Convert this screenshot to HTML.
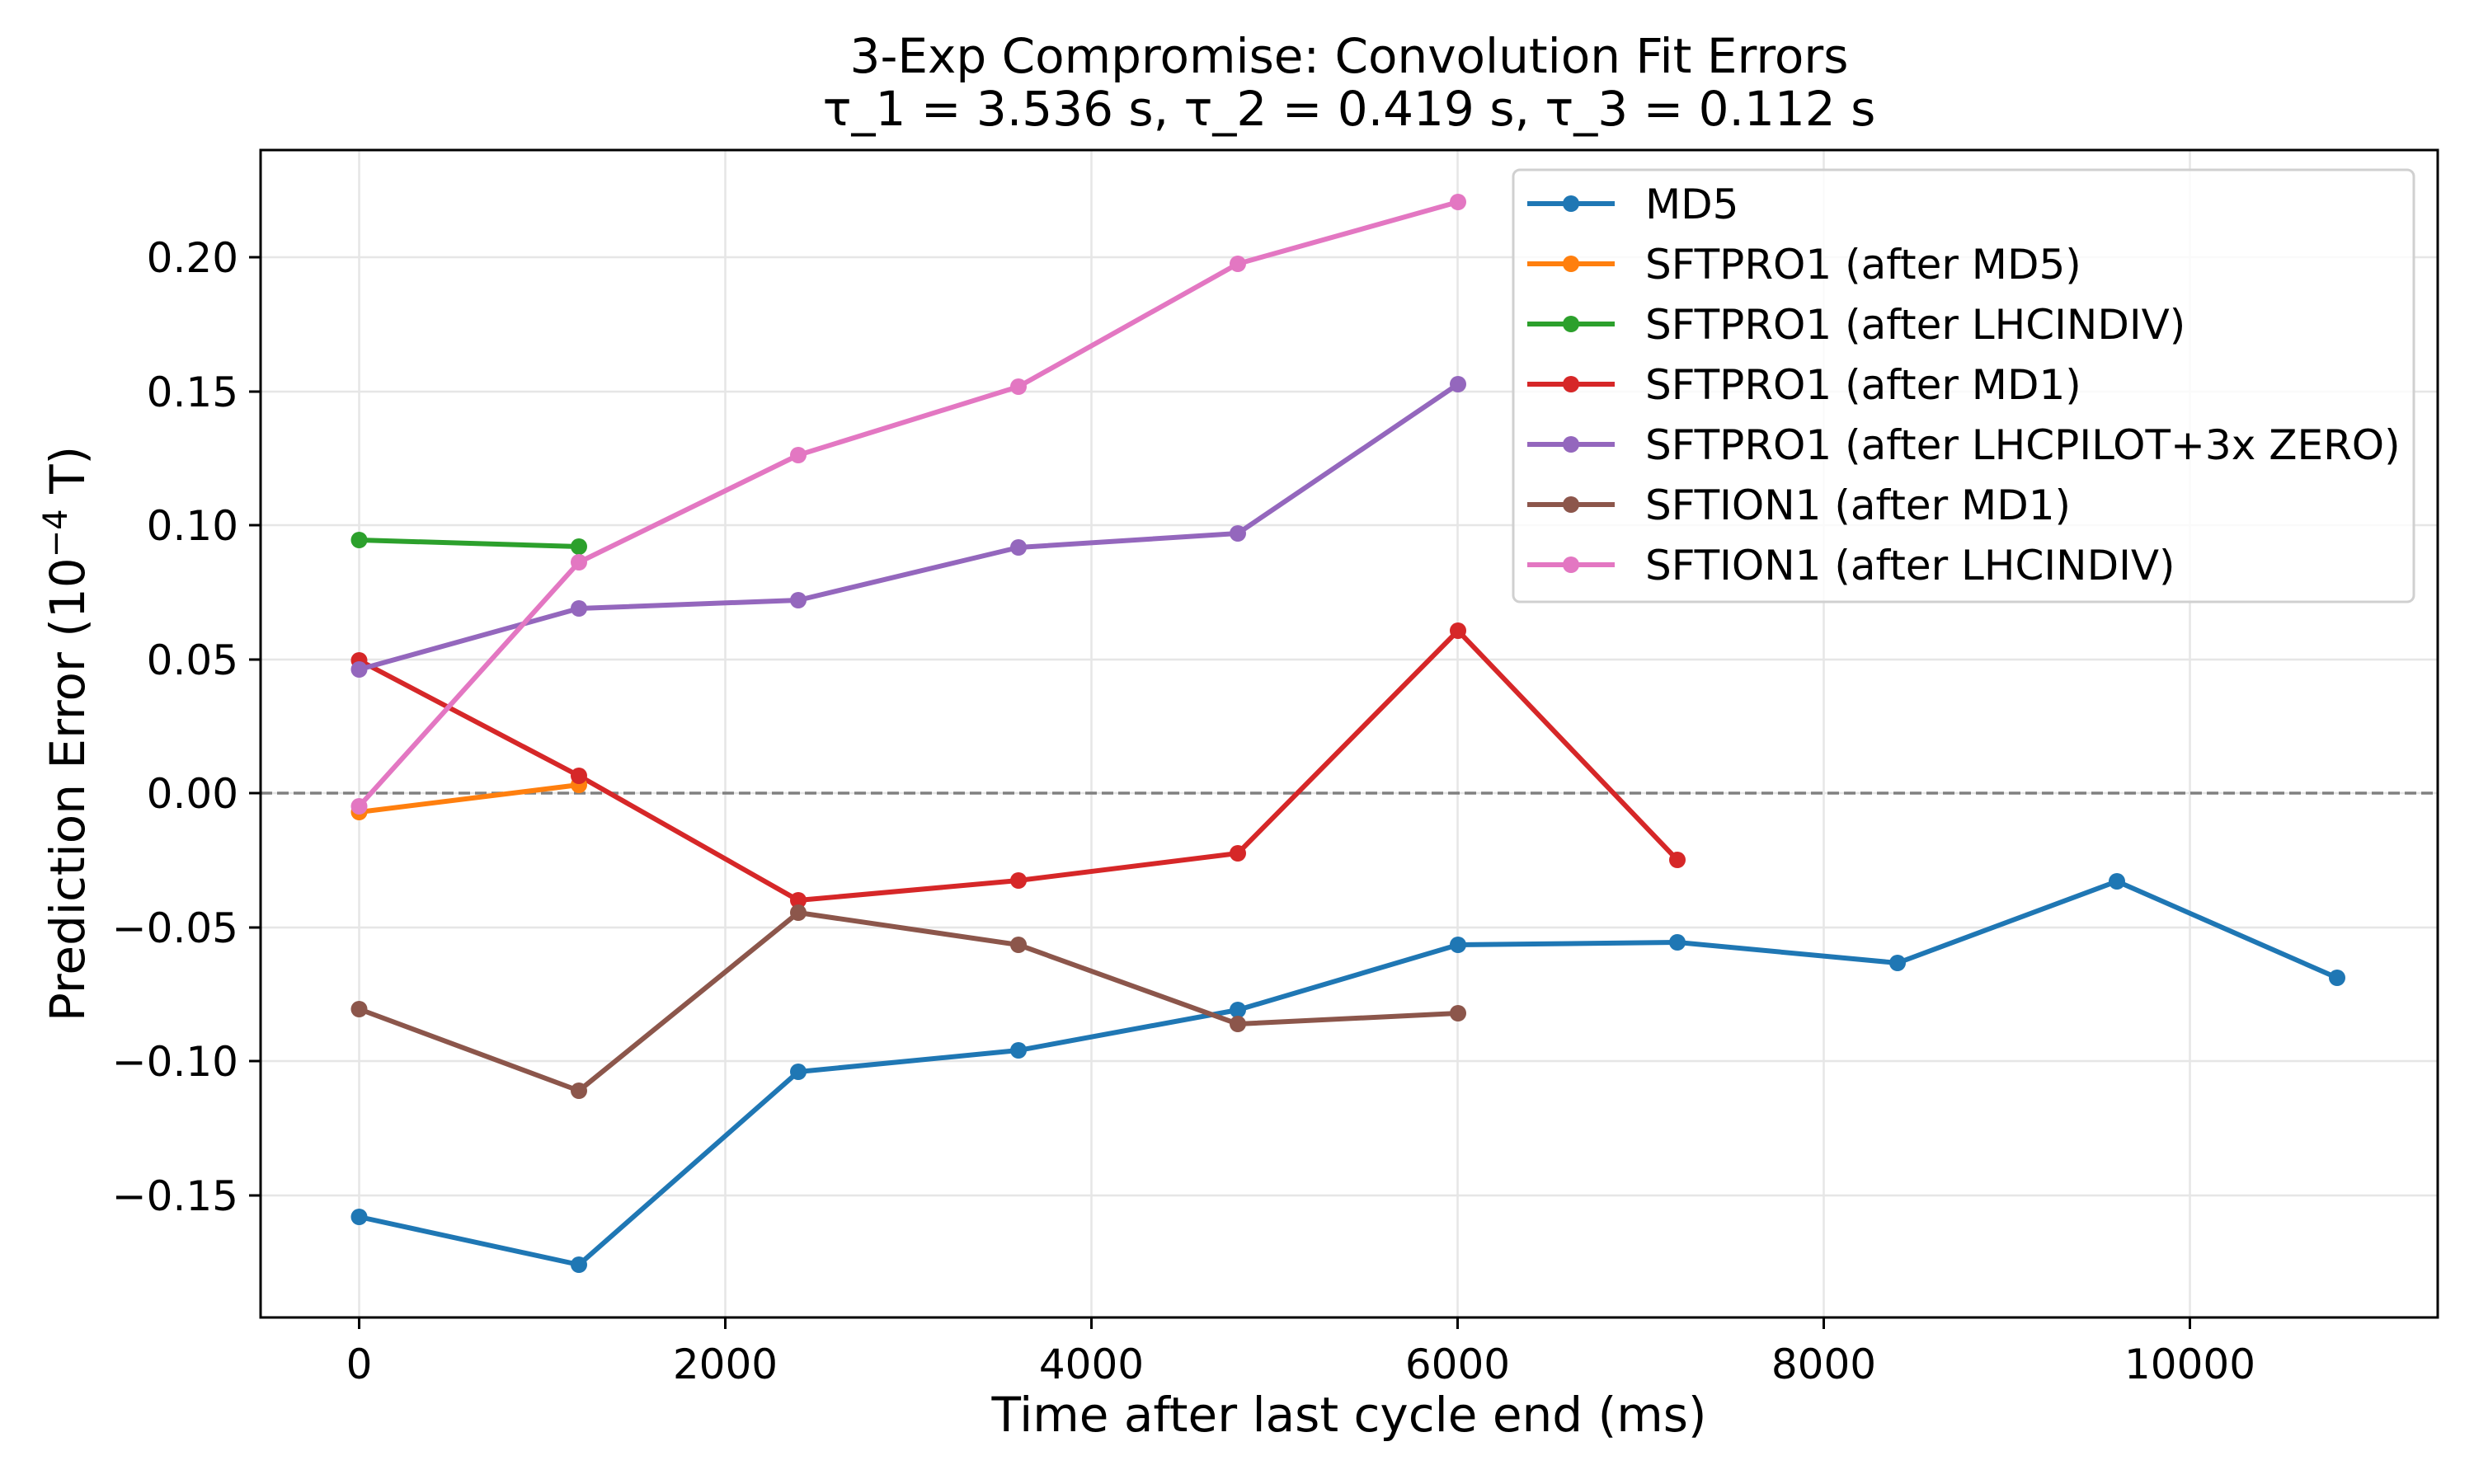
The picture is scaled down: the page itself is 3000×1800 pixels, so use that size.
<!DOCTYPE html>
<html><head><meta charset="utf-8"><style>
html,body{margin:0;padding:0;background:#fff;}
svg{display:block;font-family:"DejaVu Sans","Liberation Sans",sans-serif;}
</style></head><body>
<svg width="3000" height="1800" viewBox="0 0 3000 1800" xmlns="http://www.w3.org/2000/svg">
<rect width="3000" height="1800" fill="#fff"/>
<defs><clipPath id="c"><rect x="316" y="182" width="2640" height="1416"/></clipPath></defs>
<g stroke="#e6e6e6" stroke-width="2.5">
<line x1="435.5" y1="182" x2="435.5" y2="1598"/><line x1="879.5" y1="182" x2="879.5" y2="1598"/><line x1="1323.5" y1="182" x2="1323.5" y2="1598"/><line x1="1767.5" y1="182" x2="1767.5" y2="1598"/><line x1="2211.5" y1="182" x2="2211.5" y2="1598"/><line x1="2655.5" y1="182" x2="2655.5" y2="1598"/>
<line x1="316" y1="312" x2="2956" y2="312"/><line x1="316" y1="475" x2="2956" y2="475"/><line x1="316" y1="637" x2="2956" y2="637"/><line x1="316" y1="800" x2="2956" y2="800"/><line x1="316" y1="962" x2="2956" y2="962"/><line x1="316" y1="1125" x2="2956" y2="1125"/><line x1="316" y1="1287" x2="2956" y2="1287"/><line x1="316" y1="1450" x2="2956" y2="1450"/>
</g>
<line x1="316" y1="962" x2="2956" y2="962" stroke="#808080" stroke-width="3.5" stroke-dasharray="14,6"/>
<g clip-path="url(#c)" fill="none" stroke-width="6" stroke-linejoin="round">
<polyline stroke="#1f77b4" points="435.5,1476 702,1534 968,1300 1235,1274 1501,1225 1768,1146 2034,1143 2301,1168 2567,1069 2834,1186"/>
<polyline stroke="#ff7f0e" points="435.5,985 702,952"/>
<polyline stroke="#2ca02c" points="435.5,655 702,663"/>
<polyline stroke="#d62728" points="435.5,801 702,941 968,1092 1235,1068 1501,1035 1768,765 2034,1043"/>
<polyline stroke="#9467bd" points="435.5,812 702,738 968,728 1235,664 1501,647 1768,466"/>
<polyline stroke="#8c564b" points="435.5,1224 702,1323 968,1107 1235,1146 1501,1242 1768,1229"/>
<polyline stroke="#e377c2" points="435.5,978 702,682 968,552 1235,469 1501,320 1768,245"/>
</g>
<g clip-path="url(#c)">
<g fill="#1f77b4"><circle cx="435.5" cy="1476" r="10"/><circle cx="702" cy="1534" r="10"/><circle cx="968" cy="1300" r="10"/><circle cx="1235" cy="1274" r="10"/><circle cx="1501" cy="1225" r="10"/><circle cx="1768" cy="1146" r="10"/><circle cx="2034" cy="1143" r="10"/><circle cx="2301" cy="1168" r="10"/><circle cx="2567" cy="1069" r="10"/><circle cx="2834" cy="1186" r="10"/></g>
<g fill="#ff7f0e"><circle cx="435.5" cy="985" r="10"/><circle cx="702" cy="952" r="10"/></g>
<g fill="#2ca02c"><circle cx="435.5" cy="655" r="10"/><circle cx="702" cy="663" r="10"/></g>
<g fill="#d62728"><circle cx="435.5" cy="801" r="10"/><circle cx="702" cy="941" r="10"/><circle cx="968" cy="1092" r="10"/><circle cx="1235" cy="1068" r="10"/><circle cx="1501" cy="1035" r="10"/><circle cx="1768" cy="765" r="10"/><circle cx="2034" cy="1043" r="10"/></g>
<g fill="#9467bd"><circle cx="435.5" cy="812" r="10"/><circle cx="702" cy="738" r="10"/><circle cx="968" cy="728" r="10"/><circle cx="1235" cy="664" r="10"/><circle cx="1501" cy="647" r="10"/><circle cx="1768" cy="466" r="10"/></g>
<g fill="#8c564b"><circle cx="435.5" cy="1224" r="10"/><circle cx="702" cy="1323" r="10"/><circle cx="968" cy="1107" r="10"/><circle cx="1235" cy="1146" r="10"/><circle cx="1501" cy="1242" r="10"/><circle cx="1768" cy="1229" r="10"/></g>
<g fill="#e377c2"><circle cx="435.5" cy="978" r="10"/><circle cx="702" cy="682" r="10"/><circle cx="968" cy="552" r="10"/><circle cx="1235" cy="469" r="10"/><circle cx="1501" cy="320" r="10"/><circle cx="1768" cy="245" r="10"/></g>
</g>
<rect x="316" y="182" width="2640" height="1416" fill="none" stroke="#000" stroke-width="3"/>
<g stroke="#000" stroke-width="3">
<line x1="435.5" y1="1598" x2="435.5" y2="1612"/><line x1="879.5" y1="1598" x2="879.5" y2="1612"/><line x1="1323.5" y1="1598" x2="1323.5" y2="1612"/><line x1="1767.5" y1="1598" x2="1767.5" y2="1612"/><line x1="2211.5" y1="1598" x2="2211.5" y2="1612"/><line x1="2655.5" y1="1598" x2="2655.5" y2="1612"/>
<line x1="302" y1="312" x2="316" y2="312"/><line x1="302" y1="475" x2="316" y2="475"/><line x1="302" y1="637" x2="316" y2="637"/><line x1="302" y1="800" x2="316" y2="800"/><line x1="302" y1="962" x2="316" y2="962"/><line x1="302" y1="1125" x2="316" y2="1125"/><line x1="302" y1="1287" x2="316" y2="1287"/><line x1="302" y1="1450" x2="316" y2="1450"/>
</g>
<g font-size="50" text-anchor="middle" fill="#000">
<text x="435.5" y="1672">0</text><text x="879.5" y="1672">2000</text><text x="1323.5" y="1672">4000</text><text x="1767.5" y="1672">6000</text><text x="2211.5" y="1672">8000</text><text x="2655.5" y="1672">10000</text>
</g>
<g font-size="50" text-anchor="end" fill="#000">
<text x="289" y="330">0.20</text><text x="289" y="493">0.15</text><text x="289" y="655">0.10</text><text x="289" y="818">0.05</text><text x="289" y="980">0.00</text><text x="289" y="1143">−0.05</text><text x="289" y="1305">−0.10</text><text x="289" y="1468">−0.15</text>
</g>
<text x="1636" y="1736" font-size="58" text-anchor="middle">Time after last cycle end (ms)</text>
<text transform="translate(102,890) rotate(-90)" font-size="58" text-anchor="middle">Prediction Error (10<tspan dy="-21" font-size="40">−4</tspan><tspan dy="21"> T)</tspan></text>
<text x="1636" y="88" font-size="58" text-anchor="middle">3-Exp Compromise: Convolution Fit Errors</text>
<text x="1636" y="152" font-size="58" text-anchor="middle">τ_1 = 3.536 s, τ_2 = 0.419 s, τ_3 = 0.112 s</text>
<rect x="1835" y="206" width="1092" height="524" rx="8" fill="#fff" fill-opacity="0.8" stroke="#d0d0d0" stroke-width="3"/>
<g stroke-width="6">
<line x1="1852" y1="247" x2="1958" y2="247" stroke="#1f77b4"/><circle cx="1905" cy="247" r="10" fill="#1f77b4"/>
<line x1="1852" y1="320" x2="1958" y2="320" stroke="#ff7f0e"/><circle cx="1905" cy="320" r="10" fill="#ff7f0e"/>
<line x1="1852" y1="393" x2="1958" y2="393" stroke="#2ca02c"/><circle cx="1905" cy="393" r="10" fill="#2ca02c"/>
<line x1="1852" y1="466" x2="1958" y2="466" stroke="#d62728"/><circle cx="1905" cy="466" r="10" fill="#d62728"/>
<line x1="1852" y1="539" x2="1958" y2="539" stroke="#9467bd"/><circle cx="1905" cy="539" r="10" fill="#9467bd"/>
<line x1="1852" y1="612" x2="1958" y2="612" stroke="#8c564b"/><circle cx="1905" cy="612" r="10" fill="#8c564b"/>
<line x1="1852" y1="685" x2="1958" y2="685" stroke="#e377c2"/><circle cx="1905" cy="685" r="10" fill="#e377c2"/>
</g>
<g font-size="50" fill="#000">
<text x="1995" y="265">MD5</text>
<text x="1995" y="338">SFTPRO1 (after MD5)</text>
<text x="1995" y="411">SFTPRO1 (after LHCINDIV)</text>
<text x="1995" y="484">SFTPRO1 (after MD1)</text>
<text x="1995" y="557">SFTPRO1 (after LHCPILOT+3x ZERO)</text>
<text x="1995" y="630">SFTION1 (after MD1)</text>
<text x="1995" y="703">SFTION1 (after LHCINDIV)</text>
</g>
</svg>
</body></html>
